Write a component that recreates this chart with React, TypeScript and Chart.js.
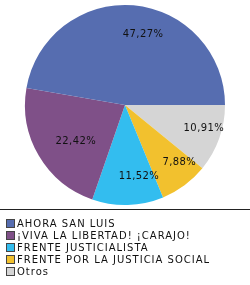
import React, { useEffect, useRef } from "react";
import { Chart, registerables } from "chart.js";

Chart.register(...registerables);

const categories = [
  "AHORA SAN LUIS",
  "¡VIVA LA LIBERTAD! ¡CARAJO!",
  "FRENTE JUSTICIALISTA",
  "FRENTE POR LA JUSTICIA SOCIAL",
  "Otros",
];
const values = [47.27, 22.42, 11.52, 7.88, 10.91];
const valueLabels = ["47,27%", "22,42%", "11,52%", "7,88%", "10,91%"];
const colors = ["#566db0", "#7f5088", "#33bdef", "#f2c12e", "#d5d5d5"];

const FONT = "DejaVu Sans, Verdana, sans-serif";

const sliceLabelPlugin = {
  id: "sliceLabels",
  afterDatasetsDraw(chart: any) {
    const ctx = chart.ctx;
    const meta = chart.getDatasetMeta(0);
    const labels: string[] = chart.data.datasets[0].valueLabels;
    ctx.save();
    ctx.font = `10px ${FONT}`;
    (ctx as any).letterSpacing = "0.4px";
    ctx.fillStyle = "#111";
    ctx.textAlign = "center";
    ctx.textBaseline = "middle";
    meta.data.forEach((arc: any, i: number) => {
      const { startAngle, endAngle, x, y, outerRadius } = arc.getProps(
        ["startAngle", "endAngle", "x", "y", "outerRadius"],
        true
      );
      const mid = (startAngle + endAngle) / 2;
      const r = outerRadius * 0.71;
      ctx.fillText(labels[i], x + Math.cos(mid) * r + 12, y + Math.sin(mid) * r);
    });
    ctx.restore();
  },
};

const legendPlugin = {
  id: "customLegend",
  afterDraw(chart: any) {
    const ctx = chart.ctx;
    const w = chart.width;
    const top = chart.chartArea.bottom + 4;
    ctx.save();
    ctx.strokeStyle = "#222";
    ctx.lineWidth = 1;
    ctx.beginPath();
    ctx.moveTo(0, top + 0.5);
    ctx.lineTo(w, top + 0.5);
    ctx.stroke();
    ctx.font = `10px ${FONT}`;
    (ctx as any).letterSpacing = "1px";
    ctx.textBaseline = "middle";
    ctx.textAlign = "left";
    categories.forEach((label, i) => {
      const cy = top + 14 + i * 12;
      ctx.fillStyle = colors[i];
      ctx.fillRect(6, cy - 4, 9, 9);
      ctx.strokeStyle = "#444";
      ctx.strokeRect(6.5, cy - 3.5, 8, 8);
      ctx.fillStyle = "#111";
      ctx.fillText(label, 17, cy + 1);
    });
    ctx.restore();
  },
};

export default function App() {
  const ref = useRef<HTMLCanvasElement>(null);
  useEffect(() => {
    document.body.style.margin = "0";
    const chart = new Chart(ref.current!, {
      type: "pie",
      data: {
        labels: [...categories].reverse(),
        datasets: [
          {
            data: [...values].reverse(),
            backgroundColor: [...colors].reverse(),
            borderWidth: 0,
            valueLabels: [...valueLabels].reverse(),
          } as any,
        ],
      },
      options: {
        animation: false,
        responsive: false,
        rotation: 90,
        layout: { padding: { top: 5, bottom: 80, left: 25, right: 25 } },
        plugins: {
          legend: { display: false },
          tooltip: { enabled: false },
        },
      },
      plugins: [sliceLabelPlugin, legendPlugin],
    });
    return () => chart.destroy();
  }, []);
  return (
    <div style={{ width: 250, height: 285, background: "#fff" }}>
      <canvas ref={ref} width={250} height={285} />
    </div>
  );
}
